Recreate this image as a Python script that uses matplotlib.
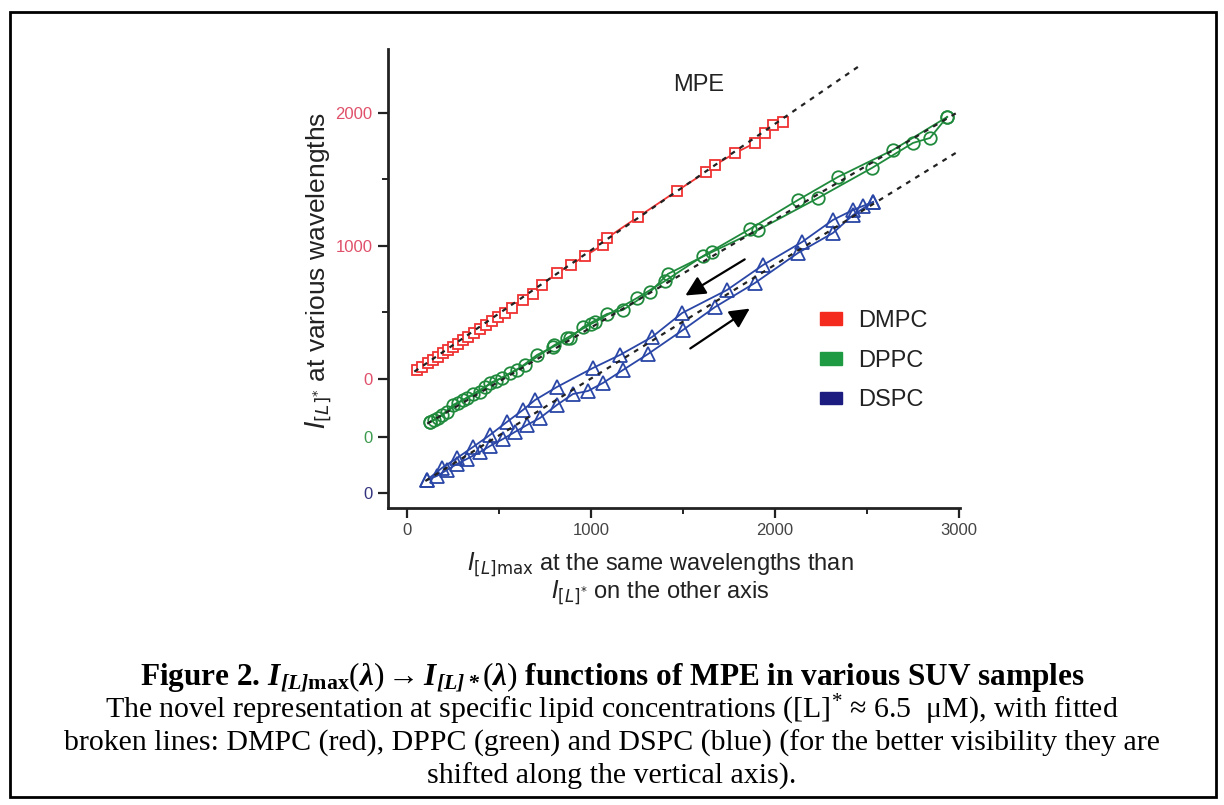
import numpy as np
import matplotlib
matplotlib.use("Agg")
import matplotlib.pyplot as plt
from matplotlib.patches import Patch, Rectangle

plt.rcParams['font.family'] = ['Liberation Sans', 'DejaVu Sans']
plt.rcParams['mathtext.fontset'] = 'custom'
plt.rcParams['mathtext.rm'] = 'Liberation Serif'
plt.rcParams['mathtext.it'] = 'Liberation Serif:italic'
plt.rcParams['mathtext.bf'] = 'Liberation Serif:bold'
plt.rcParams['mathtext.bfit'] = 'Liberation Serif:bold:italic'

# DMPC (red), squares
red_x = [54, 82, 114, 141, 168, 196, 223, 250, 277, 304, 332, 364, 397, 429, 462,
         495, 533, 571, 630, 685, 734, 815, 891, 967, 1065, 1087, 1255, 1467, 1625,
         1674, 1783, 1891, 1946, 1989, 2043]
red_y = [68, 90, 120, 143, 165, 195, 218, 241, 263, 293, 316, 346, 376, 406, 436,
         466, 496, 534, 594, 639, 707, 797, 857, 925, 1008, 1060, 1218, 1414, 1556,
         1609, 1699, 1774, 1850, 1910, 1932]

# DPPC (green), circles: increasing and decreasing branch
green_up_x = [125, 168, 217, 277, 326, 397, 451, 516, 598, 707, 793, 886, 957, 1087,
              1174, 1321, 1418, 1658, 1908, 2234, 2527, 2750, 2842, 2935]
green_up_y = [113, 143, 188, 256, 293, 338, 406, 444, 504, 617, 677, 744, 827, 925,
              955, 1090, 1226, 1391, 1556, 1797, 2023, 2211, 2248, 2406]
green_dn_x = [2935, 2641, 2342, 2125, 1864, 1609, 1402, 1250, 1022, 1000, 870, 800,
              641, 560, 484, 424, 359, 304, 250, 190, 147, 125]
green_dn_y = [2406, 2158, 1955, 1782, 1564, 1361, 1173, 1045, 865, 850, 745, 690,
              541, 481, 421, 376, 323, 278, 241, 165, 128, 113]

# DSPC (blue), triangles: increasing and decreasing branch
blue_up_x = [109, 163, 217, 272, 326, 397, 451, 522, 587, 652, 723, 815, 902, 984,
             1065, 1174, 1310, 1500, 1674, 1891, 2125, 2315, 2424, 2533]
blue_up_y = [98, 128, 173, 218, 256, 308, 353, 406, 459, 511, 564, 662, 744, 767,
             827, 925, 1045, 1226, 1398, 1579, 1805, 1955, 2090, 2188]
blue_dn_x = [2533, 2478, 2424, 2315, 2147, 1935, 1739, 1495, 1332, 1158, 1011, 815,
             696, 630, 543, 451, 359, 272, 190, 109]
blue_dn_y = [2188, 2158, 2128, 2053, 1887, 1714, 1526, 1353, 1173, 1038, 940, 797,
             699, 624, 534, 436, 346, 263, 188, 98]

# fitted lines (end points)
red_fit_x, red_fit_y = [40, 2450], [55, 2346]
green_fit_x, green_fit_y = [110, 3115], [100, 2541]
blue_fit_x, blue_fit_y = [100, 3035], [90, 2602]

# vertical shifts of the curves
red_shift, green_shift, blue_shift = 0, -436, -857

names = ['DMPC', 'DPPC', 'DSPC']
legend_colors = ['#f42a1e', '#1e9a42', '#1c1c80']

red_c = '#f03232'
green_c = '#1f8a3c'
blue_c = '#2a46a6'

fig = plt.figure(figsize=(12.24, 8.05), dpi=100)
ax = fig.add_axes([388 / 1224, 1 - 508 / 805, (960 - 388) / 1224, (508 - 49) / 805])

sh = lambda v, s: np.array(v) + s

ax.plot(red_x, sh(red_y, red_shift), '-', color=red_c, lw=1.3, marker='s', ms=6.5,
        mfc='white', mec=red_c, mew=1.3, zorder=2)
for xs, ys in [(green_up_x, green_up_y), (green_dn_x, green_dn_y)]:
    ax.plot(xs, sh(ys, green_shift), '-', color=green_c, lw=1.3, marker='o', ms=9,
            mfc='none', mec=green_c, mew=1.3, zorder=2)
for xs, ys in [(blue_up_x, blue_up_y), (blue_dn_x, blue_dn_y)]:
    ax.plot(xs, sh(ys, blue_shift), '-', color=blue_c, lw=1.3, marker='^', ms=10,
            mfc='none', mec=blue_c, mew=1.3, zorder=2)

for fx, fy, s in [(red_fit_x, red_fit_y, red_shift),
                  (green_fit_x, green_fit_y, green_shift),
                  (blue_fit_x, blue_fit_y, blue_shift)]:
    ax.plot(fx, sh(fy, s), color='#222222', lw=1.6, ls=(0, (2.2, 2.6)), zorder=3)

# direction arrows
ax.annotate('', xy=(1500, 617), xytext=(1848, 910),
            arrowprops=dict(arrowstyle='-|>', color='black', lw=1.6, mutation_scale=30))
ax.annotate('', xy=(1875, 541), xytext=(1527, 218),
            arrowprops=dict(arrowstyle='-|>', color='black', lw=1.6, mutation_scale=30))

ax.text(1587, 2210, 'MPE', ha='center', va='center', fontsize=17, color='#222222')

ax.set_xlim(-103, 3005)
ax.set_ylim(-970, 2481)

for s in ['top', 'right']:
    ax.spines[s].set_visible(False)
for s in ['left', 'bottom']:
    ax.spines[s].set_linewidth(2)
    ax.spines[s].set_color('#222222')

ax.set_xticks([0, 1000, 2000, 3000])
ax.set_xticks([500, 1500, 2500], minor=True)
ax.set_yticks([2000, 1000, red_shift, green_shift, blue_shift])
ax.set_yticklabels(['2000', '1000', '0', '0', '0'])
ax.set_yticks([1500, 500], minor=True)
ax.tick_params(which='major', direction='out', length=7, width=1.6, color='#222222',
               labelsize=12, labelcolor='#444444', pad=4)
ax.tick_params(which='minor', direction='out', length=4, width=1.4, color='#222222')
ylab_colors = ['#e0506a', '#e0506a', '#e0506a', '#3c9a4e', '#33337e']
for lab, c in zip(ax.get_yticklabels(), ylab_colors):
    lab.set_color(c)

handles = [Patch(facecolor=c, edgecolor=c) for c in legend_colors]
fig.legend(handles, names, loc='upper left', bbox_to_anchor=(820 / 1224, 1 - 310 / 805),
           frameon=False, fontsize=17, handlelength=0.95, handleheight=0.45,
           handletextpad=0.65, labelspacing=0.75, borderpad=0, borderaxespad=0,
           labelcolor='#222222')

fig.text(318 / 1224, 1 - 270 / 805, r'$I_{[L]^{*}}$ at various wavelengths',
         rotation=90, ha='center', va='center', fontsize=19, color='#222222',
         math_fontfamily='dejavusans')
fig.text(660 / 1224, 1 - 578 / 805,
         r'$I_{[L]\mathrm{max}}$ at the same wavelengths than' + '\n'
         + r'$I_{[L]^{*}}$ on the other axis',
         ha='center', va='center', fontsize=17, color='#222222', linespacing=1.05,
         math_fontfamily='dejavusans')

serif = ['Liberation Serif', 'DejaVu Serif']
fig.text(0.5, 1 - 676 / 805,
         r'Figure 2. $\mathbfit{I}_{\mathbfit{[L]}\mathbf{max}}(\mathbfit{\lambda})'
         r' \rightarrow \mathbfit{I}_{\mathbfit{[L]*}}(\mathbfit{\lambda})$'
         ' functions of MPE in various SUV samples',
         ha='center', va='center', fontsize=22.5, fontweight='bold', family=serif)
fig.text(0.5, 1 - 710 / 805,
         r'The novel representation at specific lipid concentrations ([L]$^{*}$'
         ' \u2248 6.5  \u03bcM), with fitted',
         ha='center', va='center', fontsize=21.5, family=serif)
fig.text(0.5, 1 - 743 / 805,
         'broken lines: DMPC (red), DPPC (green) and DSPC (blue) (for the better '
         'visibility they are', ha='center', va='center', fontsize=21.5, family=serif)
fig.text(0.5, 1 - 776 / 805, 'shifted along the vertical axis).',
         ha='center', va='center', fontsize=21.5, family=serif)

fig.patches.append(Rectangle((10 / 1224, 1 - 797 / 805), 1206 / 1224, 785 / 805,
                             transform=fig.transFigure, fill=False, lw=2,
                             edgecolor='black'))

fig.savefig('out.png', dpi=100)
